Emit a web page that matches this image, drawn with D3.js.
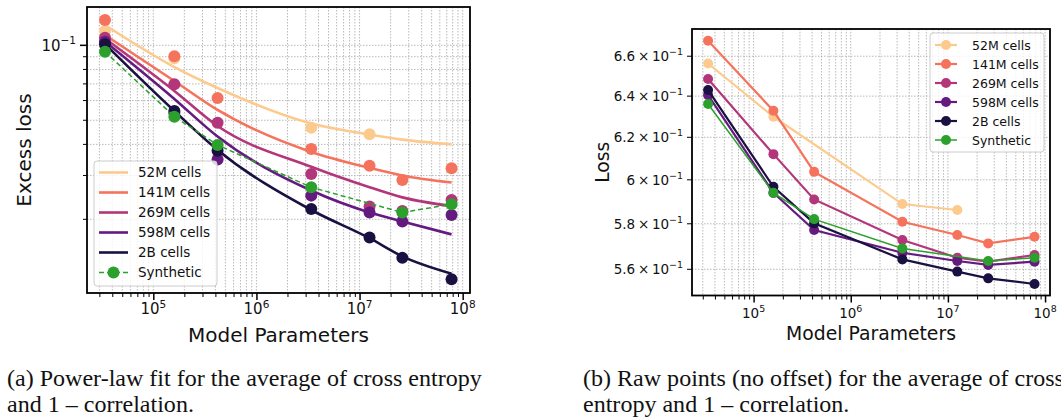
<!DOCTYPE html>
<html>
<head>
<meta charset="utf-8">
<script src="https://cdn.jsdelivr.net/npm/d3@7"></script>
<style>
	body { margin: 0; background: #fff; }
	text { font-family: 'DejaVu Sans', sans-serif; fill: #111; }
	.cap { font-family: 'Liberation Serif', 'Times New Roman', serif; }
</style>
</head>
<body>
<svg id="fig" width="1061" height="419"></svg>
<script>
// model sizes (x positions shared by both panels)
var params = [3.4e4, 1.6e5, 4.2e5, 3.4e6, 1.25e7, 2.6e7, 7.8e7];
var seriesNames = ['52M cells', '141M cells', '269M cells', '598M cells', '2B cells', 'Synthetic'];
var seriesColors = ['#fdca8e', '#f5735c', '#b3367a', '#651a80', '#1b1042', '#2ca02c'];

// (a) excess loss, measured points (null = not present)
var excess52M = [0.1141, 0.0887, null, 0.0467, 0.0439, null, null];
var excess141M = [0.1264, 0.0903, 0.0614, 0.0383, 0.0328, 0.0288, 0.0321];
var excess269M = [0.1073, 0.0697, 0.0489, 0.0304, 0.0225, 0.0216, 0.0239];
var excess598M = [0.1034, 0.0535, 0.0348, 0.0249, 0.0213, 0.0196, 0.0208];
var excess2B = [0.1009, 0.0545, 0.0377, 0.0220, 0.0169, 0.0140, 0.0115];
var excessSynth = [0.0943, 0.0517, 0.0398, 0.0269, null, 0.0213, 0.0230];

// (a) power-law fit curves, read at the same model sizes
var fit52M = [0.1207, 0.0818, 0.0674, 0.0485, 0.0438, 0.0418, 0.0400];
var fit141M = [0.1100, 0.0719, 0.0550, 0.0373, 0.0322, 0.0300, 0.0281];
var fit269M = [0.1065, 0.0656, 0.0474, 0.0325, 0.0269, 0.0245, 0.0226];
var fit598M = [0.1036, 0.0609, 0.0430, 0.0261, 0.0213, 0.0196, 0.0174];
var fit2B = [0.1012, 0.0545, 0.0380, 0.0218, 0.0168, 0.0142, 0.0121];

// (b) raw loss
var raw52M = [0.6563, 0.6299, null, 0.5889, 0.5862, null, null];
var raw141M = [0.6679, 0.6328, 0.6037, 0.5809, 0.5750, 0.5713, 0.5742];
var raw269M = [0.6485, 0.6120, 0.5910, 0.5728, 0.5650, 0.5633, 0.5662];
var raw598M = [0.6405, 0.5940, 0.5772, 0.5672, 0.5636, 0.5619, 0.5633];
var raw2B = [0.6430, 0.5968, 0.5802, 0.5643, 0.5590, 0.5561, 0.5537];
var rawSynth = [0.6361, 0.5940, 0.5821, 0.5691, null, 0.5636, 0.5650];

// ticks
var xMajorTicks = [1e5, 1e6, 1e7, 1e8];
var xMajorExp = ['5', '6', '7', '8'];
var leftYMajor = [0.1];
var leftYMinor = [0.02, 0.03, 0.04, 0.05, 0.06, 0.07, 0.08, 0.09];
var rightYTicks = [0.56, 0.58, 0.60, 0.62, 0.64, 0.66];
var rightYMant = ['5.6', '5.8', '6', '6.2', '6.4', '6.6'];

var svg = d3.select('#fig');
svg.append('rect').attr('width', 1061).attr('height', 419).attr('fill', '#fff');

function minorLogTicks(domain) {
	var out = [];
	for (var e = 4; e <= 8; e++) {
		for (var m = 1; m <= 9; m++) {
			var v = m * Math.pow(10, e);
			if (v >= domain[0] && v <= domain[1] && xMajorTicks.indexOf(v) < 0) out.push(v);
		}
	}
	return out;
}

function pairs(vals) {
	var pts = [];
	vals.forEach(function (v, i) { if (v !== null) pts.push([params[i], v]); });
	return pts;
}

function drawPanel(opt) {
	var x = d3.scaleLog().domain(opt.xDomain).range([opt.left, opt.right]);
	var y = d3.scaleLog().domain(opt.yDomain).range([opt.bottom, opt.top]);
	var g = svg.append('g');
	var xMinor = minorLogTicks(opt.xDomain);
	var xAll = xMinor.concat(xMajorTicks);

	// grid
	var grid = g.append('g').attr('stroke', '#a8a8a8').attr('stroke-width', 0.8).attr('stroke-dasharray', '1.5,1.5');
	xAll.forEach(function (t) {
		grid.append('line').attr('x1', x(t)).attr('x2', x(t)).attr('y1', opt.top).attr('y2', opt.bottom);
	});
	opt.yGrid.forEach(function (t) {
		grid.append('line').attr('x1', opt.left).attr('x2', opt.right).attr('y1', y(t)).attr('y2', y(t));
	});

	// x axis ticks
	var xAxisMinor = d3.axisBottom(x).tickValues(xMinor).tickSize(4).tickFormat('');
	var xAxisMajor = d3.axisBottom(x).tickValues(xMajorTicks).tickSize(7).tickFormat('');
	[xAxisMinor, xAxisMajor].forEach(function (ax, k) {
		var a = g.append('g').attr('transform', 'translate(0,' + opt.bottom + ')').call(ax);
		a.select('.domain').remove();
		a.selectAll('line').attr('stroke', '#000').attr('stroke-width', k ? 1.5 : 1);
	});
	xMajorTicks.forEach(function (t, i) {
		var tx = g.append('text').attr('x', x(t)).attr('y', opt.xLabelY)
			.attr('text-anchor', 'middle').style('font-size', opt.tickFont + 'px');
		tx.append('tspan').text('10');
		tx.append('tspan').attr('dy', -opt.tickFont * 0.42).style('font-size', (opt.tickFont * 0.7) + 'px').text(xMajorExp[i]);
	});

	// y axis ticks
	opt.yTicks.forEach(function (t) {
		g.append('line').attr('x1', opt.left).attr('x2', opt.left - t.len)
			.attr('y1', y(t.v)).attr('y2', y(t.v)).attr('stroke', '#000').attr('stroke-width', t.w);
		if (t.mant !== undefined) {
			var ty = g.append('text').attr('x', opt.left - t.len - 4).attr('y', y(t.v) + opt.tickFont * 0.36)
				.attr('text-anchor', 'end').style('font-size', opt.tickFont + 'px');
			ty.append('tspan').text(t.mant);
			ty.append('tspan').attr('dy', -opt.tickFont * 0.42).style('font-size', (opt.tickFont * 0.7) + 'px').text('\u22121');
		}
	});

	// axis labels
	g.append('text').attr('x', (opt.left + opt.right) / 2).attr('y', opt.xTitleY)
		.attr('text-anchor', 'middle').style('font-size', opt.titleFont + 'px').text('Model Parameters');
	g.append('text').attr('transform', 'translate(' + opt.yTitleX + ',' + ((opt.top + opt.bottom) / 2) + ') rotate(-90)')
		.attr('text-anchor', 'middle').style('font-size', opt.titleFont + 'px').text(opt.yTitle);

	// data
	var plot = g.append('g');
	var line = d3.line().x(function (d) { return x(d[0]); }).y(function (d) { return y(d[1]); });
	opt.series.forEach(function (s, i) {
		var col = seriesColors[i];
		if (s.fit) {
			plot.selectAll(null).data(pairs(s.pts)).enter().append('circle')
				.attr('cx', function (d) { return x(d[0]); }).attr('cy', function (d) { return y(d[1]); })
				.attr('r', opt.r).attr('fill', col);
			plot.append('path').attr('d', line.curve(d3.curveMonotoneX)(pairs(s.fit)))
				.attr('fill', 'none').attr('stroke', col).attr('stroke-width', 2.6);
		} else {
			plot.append('path').attr('d', line.curve(d3.curveLinear)(pairs(s.pts)))
				.attr('fill', 'none').attr('stroke', col).attr('stroke-width', s.lw)
				.attr('stroke-dasharray', s.dash || null);
			plot.selectAll(null).data(pairs(s.pts)).enter().append('circle')
				.attr('cx', function (d) { return x(d[0]); }).attr('cy', function (d) { return y(d[1]); })
				.attr('r', opt.r).attr('fill', col);
		}
	});

	// frame
	g.append('rect').attr('x', opt.left).attr('y', opt.top)
		.attr('width', opt.right - opt.left).attr('height', opt.bottom - opt.top)
		.attr('fill', 'none').attr('stroke', '#000').attr('stroke-width', 1.8);

	// legend
	var L = opt.legend;
	var lg = g.append('g');
	lg.append('rect').attr('x', L.x).attr('y', L.y).attr('width', L.w).attr('height', L.h)
		.attr('rx', 3).attr('fill', '#fff').attr('fill-opacity', 0.8).attr('stroke', '#cccccc').attr('stroke-width', 1);
	seriesNames.forEach(function (name, i) {
		var cy = L.y + L.first + i * L.step;
		var col = seriesColors[i];
		var s = opt.series[i];
		lg.append('line').attr('x1', L.x + L.lx0).attr('x2', L.x + L.lx1).attr('y1', cy).attr('y2', cy)
			.attr('stroke', col).attr('stroke-width', s.fit ? 2.6 : s.lw).attr('stroke-dasharray', s.dash || null);
		if (!s.fit) {
			lg.append('circle').attr('cx', L.x + (L.lx0 + L.lx1) / 2).attr('cy', cy).attr('r', opt.r).attr('fill', col);
		}
		lg.append('text').attr('x', L.x + L.tx).attr('y', cy + L.font * 0.36)
			.style('font-size', L.font + 'px').text(name);
	});
}

drawPanel({
	left: 87, right: 470, top: 7, bottom: 293,
	xDomain: [Math.pow(10, 4.357), Math.pow(10, 8.071)],
	yDomain: [Math.pow(10, -1.995), Math.pow(10, -0.846)],
	yGrid: leftYMinor.concat(leftYMajor),
	yTicks: leftYMinor.map(function (v) { return { v: v, len: 4, w: 1 }; })
		.concat(leftYMajor.map(function (v) { return { v: v, len: 7, w: 1.5, mant: '10' }; })),
	tickFont: 15, titleFont: 20, xLabelY: 314, xTitleY: 342, yTitleX: 31, yTitle: 'Excess loss', r: 6,
	series: [
		{ pts: excess52M, fit: fit52M },
		{ pts: excess141M, fit: fit141M },
		{ pts: excess269M, fit: fit269M },
		{ pts: excess598M, fit: fit598M },
		{ pts: excess2B, fit: fit2B },
		{ pts: excessSynth, lw: 1.5, dash: '5,3' }
	],
	legend: { x: 94, y: 161, w: 123, h: 125, first: 11.5, step: 20, lx0: 5, lx1: 34, tx: 44, font: 13.5 }
});

drawPanel({
	left: 692, right: 1050, top: 29, bottom: 295.5,
	xDomain: [Math.pow(10, 4.366), Math.pow(10, 8.051)],
	yDomain: [0.5488, 0.674],
	yGrid: rightYTicks,
	yTicks: rightYTicks.map(function (v, i) { return { v: v, len: 5, w: 1, mant: rightYMant[i] + '\u2009\u00d7\u200910' }; }),
	tickFont: 13.5, titleFont: 18.8, xLabelY: 318, xTitleY: 340, yTitleX: 609, yTitle: 'Loss', r: 5,
	series: [
		{ pts: raw52M, lw: 2.2 },
		{ pts: raw141M, lw: 2.2 },
		{ pts: raw269M, lw: 2.2 },
		{ pts: raw598M, lw: 2.2 },
		{ pts: raw2B, lw: 2.2 },
		{ pts: rawSynth, lw: 1.5 }
	],
	legend: { x: 930, y: 33, w: 114, h: 119, first: 12, step: 19, lx0: 5, lx1: 27, tx: 42, font: 12.5 }
});

// captions (condensed serif, like the scaled-down paper figure)
var capA = ['(a) Power-law fit for the average of cross entropy', 'and 1 \u2013 correlation.'];
var capB = ['(b) Raw points (no offset) for the average of cross', 'entropy and 1 \u2013 correlation.'];
var capTexts = [];
[[capA, 7], [capB, 583]].forEach(function (c) {
	c[0].forEach(function (line, i) {
		capTexts.push(svg.append('text').attr('class', 'cap').style('font-size', '24px')
			.attr('data-x', c[1]).attr('data-y', 386 + i * 26).text(line));
	});
});
var natural = capTexts[0].node().getComputedTextLength();
var sx = 475 / natural;
capTexts.forEach(function (t) {
	t.attr('transform', 'translate(' + t.attr('data-x') + ',' + t.attr('data-y') + ') scale(' + sx + ',1)');
});
</script>
</body>
</html>
